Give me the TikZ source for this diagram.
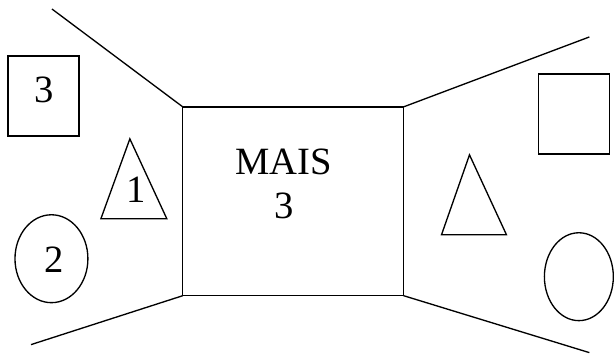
\documentclass[tikz,border=0pt]{standalone}
\usepackage{fontspec}
\setmainfont{Liberation Serif}
\begin{document}
\begin{tikzpicture}[x=0.75pt,y=0.75pt,yscale=-1,xscale=1,line width=1pt,
  lbl/.style={inner sep=0pt,anchor=base,font=\fontsize{29}{33}\selectfont}]
\path (0,0) rectangle (614,357); %set diagram size

% Centre box
\coordinate (boxNW) at (183,107);
\coordinate (boxNE) at (404,107);
\coordinate (boxSE) at (404,296);
\coordinate (boxSW) at (183,296);
\draw (boxNW) -- (boxNE) -- (boxSE) -- (boxSW) -- cycle ;

%Straight Lines
\coordinate (endNW) at (52,9);
\coordinate (endSW) at (31,345);
\coordinate (endNE) at (590,37);
\coordinate (endSE) at (590,353);
\draw (boxNW) -- (endNW) ;
\draw (boxSW) -- (endSW) ;
\draw (boxNE) -- (endNE) ;
\draw (boxSE) -- (endSE) ;

%Shape: Square
\draw (8,56) rectangle (79,136) ;
\draw (539,74) rectangle (610,154) ;
%Shape: Triangle
\draw (130,139) -- (167,219) -- (101,219) -- cycle ;
\draw (470,155) -- (507,235) -- (442,235) -- cycle ;
%Shape: Ellipse
\draw (51.5,259) ellipse (36.5 and 44) ;
\draw (579.5,277) ellipse (34.5 and 44) ;

% Text Node
\node (sqnum) [lbl] at (44,103) {3};
% Text Node
\node (trinum) [lbl] at (136,203) {1};
% Text Node
\node (ellnum) [lbl] at (54,273) {2};
% Text Node
\node (mais) [lbl,align=center] at (284,219) {MAIS\\3};
\end{tikzpicture}
\end{document}
